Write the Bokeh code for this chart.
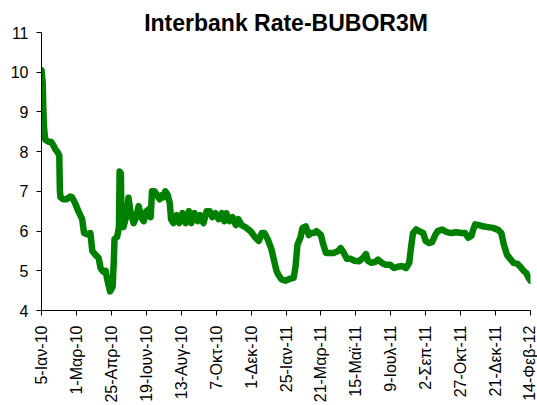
import math
from bokeh.plotting import figure
from bokeh.models import FixedTicker, Range1d, ColumnDataSource
from bokeh.embed import file_html
from bokeh.resources import INLINE

# Days counted from 5-Jan-2010 (first observation)
start_date = "2010-01-05"
day_offsets = [
    0, 2, 3, 4, 6, 11, 15, 19, 22, 25, 28, 29, 30, 34, 39, 45, 48, 53, 58, 64,
    67, 72, 77, 80, 85, 90, 93, 97, 101, 103, 108, 112, 114, 115, 119, 122, 123, 125, 126, 129,
    134, 137, 140, 145, 149, 153, 157, 161, 165, 169, 172, 174, 178, 182, 186, 189, 192, 195, 199, 202,
    204, 208, 213, 217, 222, 227, 232, 236, 241, 246, 250, 255, 260, 265, 269, 274, 279, 284, 288, 291,
    296, 301, 306, 310, 315, 321, 329, 337, 342, 347, 351, 356, 362, 367, 370, 373, 378, 384, 391, 397,
    400, 403, 408, 411, 416, 421, 424, 429, 433, 440, 443, 448, 454, 460, 467, 471, 476, 481, 487, 493,
    500, 506, 511, 514, 519, 525, 530, 536, 542, 549, 555, 561, 568, 574, 579, 582, 585, 590, 594, 601,
    605, 610, 615, 620, 624, 631, 637, 645, 653, 661, 667, 672, 677, 680, 683, 689, 695, 703, 711, 719,
    724, 728, 733, 738, 743, 749, 754, 759, 763, 767, 770,
]
bubor3m = [
    10.05, 9.7, 9.0, 8.6, 8.3, 8.25, 8.25, 8.15, 8.05, 8.0, 7.9, 7.0, 6.85, 6.8, 6.8, 6.87, 6.85, 6.7, 6.5, 6.3,
    5.95, 5.92, 5.95, 5.5, 5.4, 5.32, 5.07, 4.98, 5.0, 4.82, 4.48, 4.6, 5.3, 5.8, 5.85, 6.1, 7.5, 7.45, 6.2, 6.1,
    6.4, 6.84, 6.5, 6.2, 6.35, 6.63, 6.35, 6.25, 6.5, 6.55, 6.35, 7.0, 7.0, 6.9, 6.8, 6.9, 6.85, 7.0, 6.9, 6.7,
    6.3, 6.2, 6.4, 6.2, 6.45, 6.2, 6.5, 6.2, 6.45, 6.25, 6.4, 6.2, 6.5, 6.5, 6.35, 6.45, 6.3, 6.45, 6.25, 6.45,
    6.25, 6.35, 6.15, 6.3, 6.15, 6.1, 6.0, 5.83, 5.75, 5.95, 5.95, 5.8, 5.55, 5.2, 5.0, 4.9, 4.78, 4.75, 4.8, 4.82,
    5.1, 5.65, 5.85, 6.08, 6.12, 5.9, 5.95, 5.95, 6.0, 5.9, 5.7, 5.45, 5.45, 5.45, 5.5, 5.57, 5.45, 5.3, 5.3, 5.25,
    5.24, 5.32, 5.42, 5.25, 5.2, 5.22, 5.28, 5.2, 5.15, 5.15, 5.07, 5.1, 5.12, 5.07, 5.2, 5.6, 5.95, 6.04, 6.0, 5.95,
    5.75, 5.7, 5.72, 5.9, 6.0, 6.04, 5.98, 5.95, 5.97, 5.95, 5.95, 5.83, 5.88, 6.05, 6.17, 6.15, 6.12, 6.1, 6.08, 6.03,
    5.95, 5.66, 5.4, 5.3, 5.2, 5.18, 5.1, 5.0, 4.95, 4.82, 4.75,
]

tick_days = [0, 55, 110, 165, 220, 275, 330, 385, 440, 495, 550, 605, 660, 715, 770]
tick_labels = ["5-Ιαν-10", "1-Μαρ-10", "25-Απρ-10", "19-Ιουν-10", "13-Αυγ-10",
               "7-Οκτ-10", "1-Δεκ-10", "25-Ιαν-11", "21-Μαρ-11", "15-Μαϊ-11",
               "9-Ιουλ-11", "2-Σεπ-11", "27-Οκτ-11", "21-Δεκ-11", "14-Φεβ-12"]
y_ticks = [4, 5, 6, 7, 8, 9, 10, 11]

FONT = "Liberation Sans"

source = ColumnDataSource(data=dict(day=day_offsets, rate=bubor3m))

p = figure(width=537, height=405, output_backend="svg", toolbar_location=None,
           x_range=Range1d(0, 770), y_range=Range1d(4, 11),
           min_border_left=41, min_border_right=7, min_border_top=32, min_border_bottom=0)

p.title.text = "Interbank Rate-BUBOR3M"
p.title.text_font = FONT
p.title.text_font_size = "23px"
p.title.text_font_style = "bold"
p.title.text_color = "black"
p.title.align = "center"
p.title.standoff = -6
p.title.offset = -6

p.line("day", "rate", source=source, line_color="#008000", line_width=6.5,
       line_join="round", line_cap="round")

p.outline_line_color = None
p.xgrid.visible = False
p.ygrid.visible = False
p.background_fill_color = "white"
p.border_fill_color = "white"

xa = p.xaxis[0]
xa.ticker = FixedTicker(ticks=tick_days)
xa.major_label_overrides = {d: lab for d, lab in zip(tick_days, tick_labels)}
xa.major_label_orientation = math.pi / 2
xa.minor_tick_line_color = None
xa.major_tick_out = 5
xa.major_tick_in = 0
xa.major_label_standoff = 10
xa.major_label_text_font = FONT
xa.major_label_text_font_size = "16px"
xa.major_label_text_color = "black"
xa.axis_line_color = "black"
xa.major_tick_line_color = "black"

ya = p.yaxis[0]
ya.ticker = FixedTicker(ticks=y_ticks)
ya.minor_tick_line_color = None
ya.major_tick_out = 5
ya.major_tick_in = 0
ya.major_label_standoff = 8
ya.major_label_text_font = FONT
ya.major_label_text_font_size = "16px"
ya.major_label_text_color = "black"
ya.axis_line_color = "black"
ya.major_tick_line_color = "black"

open("out.html", "w").write(file_html(p, INLINE))
